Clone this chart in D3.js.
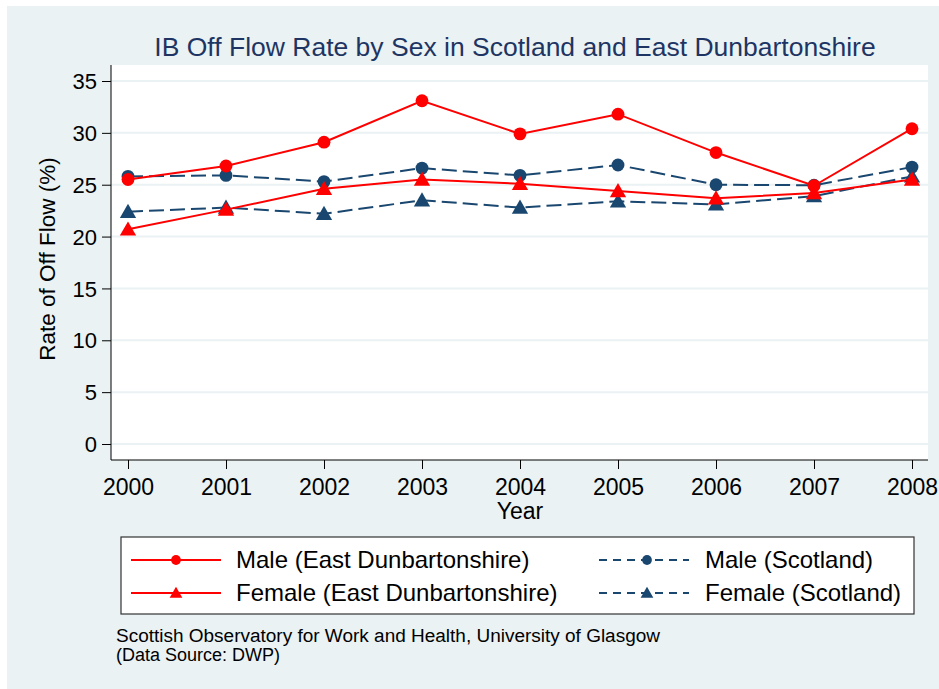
<!DOCTYPE html>
<html><head><meta charset="utf-8">
<script src="https://cdn.jsdelivr.net/npm/d3@7"></script>
<style>body{margin:0;background:#fff}svg{display:block}text{font-family:"Liberation Sans",Arial,Helvetica,sans-serif}</style>
</head><body>
<svg id="c" width="939" height="689"></svg>
<script>
const years = [2000,2001,2002,2003,2004,2005,2006,2007,2008];
const maleED = [25.5,26.8,29.1,33.1,29.9,31.8,28.1,24.9,30.4];
const femaleED = [20.7,22.6,24.6,25.5,25.1,24.4,23.7,24.2,25.5];
const maleScot = [25.8,25.9,25.3,26.6,25.9,26.9,25.0,24.95,26.7];
const femaleScot = [22.4,22.8,22.2,23.5,22.8,23.4,23.1,23.9,25.8];
const yTicks = [0,5,10,15,20,25,30,35];
const seriesNames = ["Male (East Dunbartonshire)","Female (East Dunbartonshire)","Male (Scotland)","Female (Scotland)"];

const RED="#ff0000", NAVY="#1a476f", BG="#eaf2f3";
const svg=d3.select("#c");
svg.append("rect").attr("x",7).attr("y",6).attr("width",932).attr("height",683).attr("fill",BG);
const L=111,R=928,T=65,B=460;
svg.append("rect").attr("x",L).attr("y",T).attr("width",R-L).attr("height",B-T).attr("fill","#fff");

const x=d3.scaleLinear().domain([2000,2008]).range([128,912]);
const y=d3.scaleLinear().domain([0,35]).range([444,81]);

svg.append("g").selectAll("line").data(yTicks).join("line")
 .attr("x1",L).attr("x2",R).attr("y1",d=>y(d)).attr("y2",d=>y(d))
 .attr("stroke",BG).attr("stroke-width",2);

const ya=svg.append("g").attr("transform",`translate(${L},0)`)
 .call(d3.axisLeft(y).tickValues(yTicks).tickSize(9).tickPadding(5).tickSizeOuter(0));
ya.select(".domain").attr("d",`M0,${T}V${B}`).attr("stroke","#000");
ya.selectAll("text").attr("font-size",22).attr("fill","#000").attr("dy","0.35em");
ya.selectAll(".tick line").attr("stroke","#000");
const xa=svg.append("g").attr("transform",`translate(0,${B})`)
 .call(d3.axisBottom(x).tickValues(years).tickFormat(d3.format("d")).tickSize(9).tickPadding(10).tickSizeOuter(0));
xa.select(".domain").attr("d",`M${L},0H${R}`).attr("stroke","#000");
xa.selectAll("text").attr("font-size",23).attr("fill","#000");
xa.selectAll(".tick line").attr("stroke","#000");

svg.append("text").attr("x",515).attr("y",56).attr("text-anchor","middle").attr("font-size",26.5).attr("fill","#1e3563")
 .text("IB Off Flow Rate by Sex in Scotland and East Dunbartonshire");
svg.append("text").attr("transform","translate(55,259) rotate(-90)").attr("text-anchor","middle").attr("font-size",22.5).attr("fill","#000")
 .text("Rate of Off Flow (%)");
svg.append("text").attr("x",520).attr("y",519).attr("text-anchor","middle").attr("font-size",23).attr("fill","#000").text("Year");

const series=[
 {name:seriesNames[0],vals:maleED,color:RED,dash:null,shape:"circle"},
 {name:seriesNames[1],vals:femaleED,color:RED,dash:null,shape:"triangle"},
 {name:seriesNames[2],vals:maleScot,color:NAVY,dash:"15,6",shape:"circle"},
 {name:seriesNames[3],vals:femaleScot,color:NAVY,dash:"15,6",shape:"triangle"}
];
const line=d3.line().x((d,i)=>x(years[i])).y(d=>y(d));
const sym=(shape,size)=>d3.symbol().type(shape==="circle"?d3.symbolCircle:d3.symbolTriangle).size(size)();
const order=[2,3,0,1];
order.forEach(k=>{
 const s=series[k];
 svg.append("path").attr("d",line(s.vals)).attr("fill","none").attr("stroke",s.color).attr("stroke-width",2)
  .attr("stroke-dasharray",s.dash);
 svg.append("g").selectAll("path").data(s.vals).join("path")
  .attr("transform",(d,i)=>`translate(${x(years[i])},${y(d)+(s.shape==="triangle"?1.5:0)})`)
  .attr("d",sym(s.shape,s.shape==="circle"?130:115)).attr("fill",s.color);
});

svg.append("rect").attr("x",121).attr("y",537).attr("width",793).attr("height",77).attr("fill","#fff").attr("stroke","#333").attr("stroke-width",1.2);
const legPos=[[131,221,176,236,560],[131,221,176,236,593],[599,689,647,705,560],[599,689,647,705,593]];
series.forEach((s,k)=>{
 const [x1,x2,mx,tx,ly]=legPos[k];
 svg.append("line").attr("x1",x1).attr("x2",x2).attr("y1",ly).attr("y2",ly).attr("stroke",s.color).attr("stroke-width",2).attr("stroke-dasharray",s.dash?"8,6":null);
 svg.append("path").attr("transform",`translate(${mx},${ly+(s.shape==="triangle"?1:0)})`).attr("d",sym(s.shape,s.shape==="circle"?75:70)).attr("fill",s.color);
 svg.append("text").attr("x",tx).attr("y",ly).attr("dy","0.35em").attr("font-size",24).attr("fill","#000").text(s.name);
});

svg.append("text").attr("x",116).attr("y",642).attr("font-size",18).attr("textLength",544).attr("lengthAdjust","spacingAndGlyphs").attr("fill","#000").text("Scottish Observatory for Work and Health, University of Glasgow");
svg.append("text").attr("x",116).attr("y",661).attr("font-size",18).attr("fill","#000").text("(Data Source: DWP)");
</script>
</body></html>
